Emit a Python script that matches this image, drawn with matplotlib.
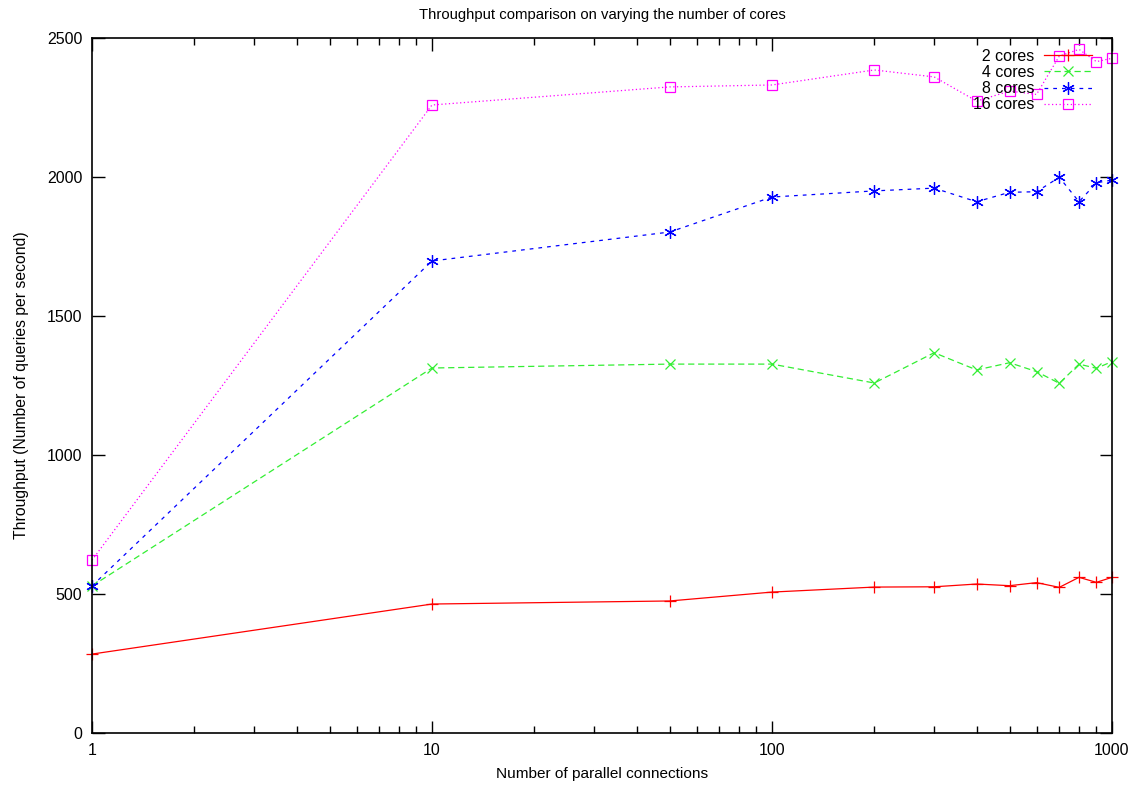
import numpy as np
import matplotlib
matplotlib.use("Agg")
import matplotlib.pyplot as plt
from matplotlib.ticker import LogLocator, NullFormatter, FixedLocator

plt.rcParams['font.family'] = ['Liberation Sans', 'DejaVu Sans']

# ---- data ----
conns = [1, 10, 50, 100, 200, 300, 400, 500, 600, 700, 800, 900, 1000]
cores2 = [284, 464, 475, 507, 525, 526, 536, 530, 541, 524, 560, 542, 560]
cores4 = [529, 1313, 1327, 1327, 1259, 1368, 1306, 1332, 1300, 1258, 1327, 1312, 1336]
cores8 = [529, 1698, 1802, 1928, 1950, 1960, 1911, 1945, 1947, 1999, 1911, 1979, 1989]
cores16 = [622, 2259, 2324, 2331, 2385, 2360, 2273, 2309, 2297, 2435, 2459, 2415, 2427]
labels = ['\u20072 cores', '\u20074 cores', '\u20078 cores', '16 cores']
yticks = [0, 500, 1000, 1500, 2000, 2500]
xticks = [1, 10, 100, 1000]

fig = plt.figure(figsize=(11.4, 7.85), dpi=100)
ax = fig.add_axes([0.0807, 0.0662, 0.8947, 0.8854])

kw = dict(lw=0.9, mew=0.9, clip_on=False)
ax.plot(conns, cores2, color='#ff0000', ls='-', marker='+', ms=8, label=labels[0], **kw)
ax.plot(conns, cores4, color='#33ee33', ls=(0, (5, 3)), marker='x', ms=7.5, label=labels[1], **kw)
ax.plot(conns, cores8, color='#0000ff', ls=(0, (3, 4)), marker=(6, 2, 0), ms=9, label=labels[2], **kw)
ax.plot(conns, cores16, color='#ff00ff', ls=(0, (1, 2)), marker='s', ms=6.5, mfc='none',
        label=labels[3], **kw)

ax.set_xscale('log')
ax.set_xlim(1, 1000)
ax.set_ylim(0, 2500)
ax.xaxis.set_major_locator(FixedLocator(xticks))
ax.set_xticklabels([str(v) for v in xticks])
ax.xaxis.set_minor_locator(LogLocator(base=10, subs=np.arange(2, 10)))
ax.xaxis.set_minor_formatter(NullFormatter())
ax.set_yticks(yticks)

ax.tick_params(which='major', direction='in', length=9, width=1, top=True, right=True, labelsize=11.5)
ax.tick_params(axis='x', which='major', pad=7.5)
ax.tick_params(axis='y', which='major', pad=7)
ax.tick_params(which='minor', direction='in', length=5, width=1, top=True, right=True)
for s in ax.spines.values():
    s.set_linewidth(1.2)

ax.set_xlabel('Number of parallel connections', fontsize=11.1, labelpad=6)
ax.set_ylabel('Throughput (Number of queries per second)', fontsize=11.3, labelpad=13)
ax.set_title('Throughput comparison on varying the number of cores', fontsize=10.7, pad=14)

leg = ax.legend(loc='upper right', frameon=False, markerfirst=False, fontsize=11.5,
                handlelength=3.0, labelspacing=0.08, handletextpad=0.6,
                borderaxespad=0, bbox_to_anchor=(0.9867, 0.994))

fig.savefig('out.png', dpi=100)
